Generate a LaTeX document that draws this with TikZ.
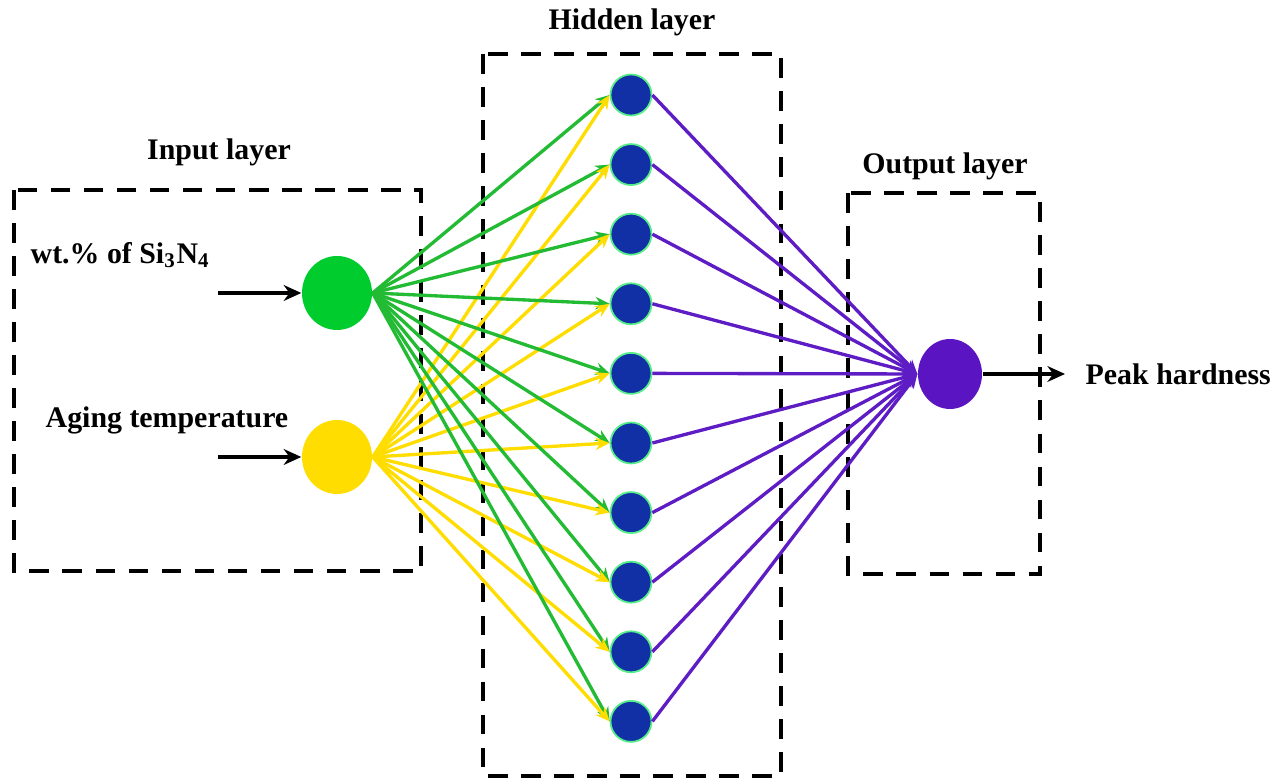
\documentclass[tikz,border=0pt]{standalone}
\usepackage{fontspec}
\setmainfont{Liberation Serif}
\usetikzlibrary{arrows.meta,shapes.geometric}
\definecolor{ingreen}{HTML}{00CC2E}
\definecolor{inyellow}{HTML}{FFDD00}
\definecolor{hidblue}{HTML}{1230A6}
\definecolor{hidrim}{HTML}{55EE88}
\definecolor{outviolet}{HTML}{5A14C2}
\definecolor{edgegreen}{HTML}{22BB33}
\definecolor{edgeviolet}{HTML}{5E1CC4}
\tikzset{
  layerbox/.style={black,line width=1.15pt,dash pattern=on 5.6pt off 3.8pt},
  neuron/.style={ellipse,inner sep=0pt},
  hidneuron/.style={circle,fill=hidblue,draw=hidrim,line width=0.5pt,minimum size=0.41cm,inner sep=0pt},
  wire/.style={line width=0.95pt,-{Stealth[length=4pt,width=3.5pt]}},
  feed/.style={black,line width=0.95pt,-{Stealth[length=5pt,width=4.5pt]}},
  lbl/.style={font=\fontsize{8.5}{10}\selectfont\bfseries,inner sep=0pt}
}
\begin{document}
\begin{tikzpicture}
\useasboundingbox (0,0) rectangle (12.82,7.80);
% layer boxes
\draw[layerbox] (0.14,5.90) rectangle (4.21,2.09);
\draw[layerbox] (4.83,7.26) rectangle (7.81,0.04);
\draw[layerbox] (8.48,5.87) rectangle (10.40,2.06);
\node[lbl] (tin) at (2.19,6.28) {Input layer};
\node[lbl] (thid) at (6.32,7.58) {Hidden layer};
\node[lbl] (tout) at (9.45,6.14) {Output layer};
% inputs
\node[neuron,fill=ingreen,minimum width=0.70cm,minimum height=0.74cm] (x1) at (3.37,4.87) {};
\node[neuron,fill=inyellow,minimum width=0.70cm,minimum height=0.74cm] (x2) at (3.37,3.23) {};
\node[lbl,anchor=west] (l1) at (0.30,5.25) {wt.\% of Si\textsubscript{3}N\textsubscript{4}};
\node[lbl,anchor=west] (l2) at (0.45,3.60) {Aging temperature};
\coordinate (s1) at (2.18,4.87);
\coordinate (s2) at (2.18,3.23);
\draw[feed] (s1) -- (x1.west);
\draw[feed] (s2) -- (x2.west);
% output
\node[neuron,fill=outviolet,minimum width=0.64cm,minimum height=0.70cm] (y) at (9.50,4.06) {};
\node[lbl,anchor=west] (ly) at (10.85,4.06) {Peak hardness};
\coordinate (e) at (10.65,4.06);
\draw[feed] (y.east) -- (e);
% hidden layer and weights
\foreach \i in {1,...,10}{
  \node[hidneuron] (h\i) at (6.31,{6.85-0.696*(\i-1)}) {};
}
\foreach \i in {1,...,10}{
  \draw[wire,edgegreen] (x1.east) -- (h\i.west);
  \draw[wire,inyellow] (x2.east) -- (h\i.west);
  \draw[wire,edgeviolet] (h\i.east) -- (y.west);
}
\end{tikzpicture}
\end{document}
